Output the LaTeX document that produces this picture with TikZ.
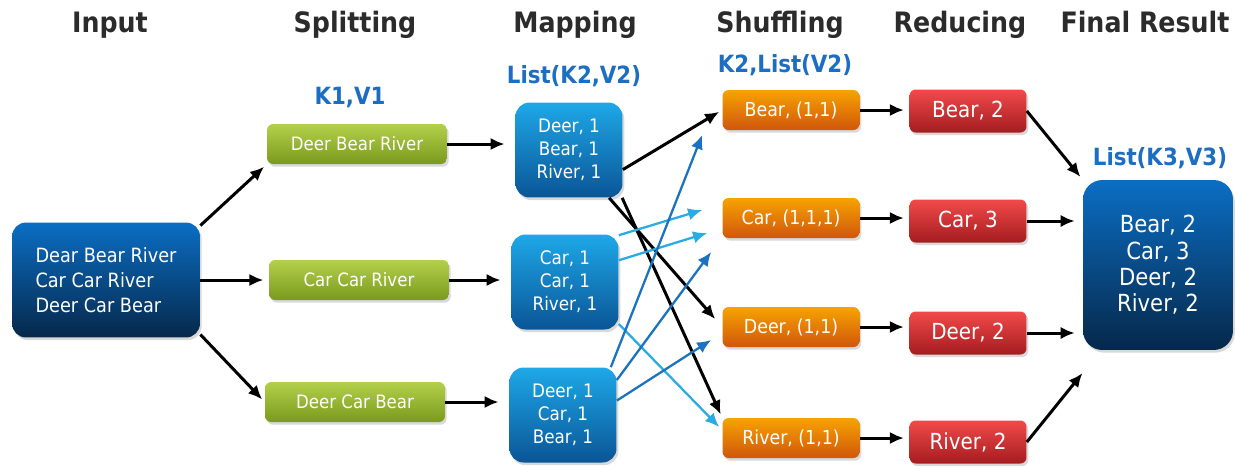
\documentclass[tikz,border=0pt]{standalone}
\usepackage{fontspec}
\setmainfont{DejaVu Sans Condensed}
\usetikzlibrary{arrows.meta,shadows}

\definecolor{headgray}{HTML}{2B2B2B}
\definecolor{keyblue}{HTML}{1B6EC2}
\definecolor{inblueA}{HTML}{0B6EC4}
\definecolor{inblueB}{HTML}{06284A}
\definecolor{greenA}{HTML}{B4D04A}
\definecolor{greenB}{HTML}{7A9A1E}
\definecolor{mapA}{HTML}{1EA8E8}
\definecolor{mapB}{HTML}{0A5596}
\definecolor{orangeA}{HTML}{F7A300}
\definecolor{orangeB}{HTML}{D0560C}
\definecolor{redA}{HTML}{F24A4A}
\definecolor{redB}{HTML}{A41C20}
\definecolor{arrlight}{HTML}{2AABE4}
\definecolor{arrdark}{HTML}{1B72BE}

\begin{document}
\begin{tikzpicture}[x=0.02cm,y=-0.02cm,
		stage/.style={font=\bfseries\fontsize{16}{19}\selectfont,text=headgray,anchor=base},
		keyval/.style={font=\bfseries\fontsize{13.5}{16}\selectfont,text=keyblue,anchor=base},
		box/.style={rounded corners=3.5pt,text=white,align=center,inner sep=2pt,
			drop shadow={opacity=.3,shadow xshift=1pt,shadow yshift=-1.5pt}},
		inbox/.style={box,rounded corners=8pt,top color=inblueA,bottom color=inblueB,
			minimum width=3.76cm,minimum height=2.3cm,font=\fontsize{11.2}{14.2}\selectfont,align=left},
		splitbox/.style={box,top color=greenA,bottom color=greenB,
			minimum width=3.6cm,minimum height=0.8cm,font=\fontsize{10.5}{12}\selectfont},
		mapbox/.style={box,rounded corners=8pt,top color=mapA,bottom color=mapB,
			minimum width=2.14cm,minimum height=1.9cm,font=\fontsize{10.6}{13}\selectfont},
		shufbox/.style={box,top color=orangeA,bottom color=orangeB,
			minimum width=2.74cm,minimum height=0.8cm,font=\fontsize{11}{13}\selectfont},
		redbox/.style={box,top color=redA,bottom color=redB,
			minimum width=2.34cm,minimum height=0.86cm,font=\fontsize{12.6}{15}\selectfont},
		outbox/.style={box,rounded corners=11pt,top color=inblueA,bottom color=inblueB,
			minimum width=3cm,minimum height=3.4cm,font=\fontsize{13.4}{15}\selectfont},
		link/.style={line width=1.7pt,-{Latex[length=8pt,width=7pt]},shorten >=2pt},
		lightlink/.style={link,color=arrlight,line width=1.3pt,shorten >=0pt},
		darklink/.style={link,color=arrdark,line width=1.3pt,shorten >=0pt}]
	\useasboundingbox (0,0) rectangle (1235,468);
	
	% stage titles
	\node[stage] (hin) at (110,32) {Input};
	\node[stage] (hsp) at (355,32) {Splitting};
	\node[stage] (hmp) at (575,32) {Mapping};
	\node[stage] (hsh) at (780,32) {Shuffling};
	\node[stage] (hrd) at (960,32) {Reducing};
	\node[stage] (hout) at (1145,32) {Final Result};
	
	\node[keyval] (kv1) at (350,104) {K1,V1};
	\node[keyval] (kv2) at (574,83) {List(K2,V2)};
	\node[keyval] (kv3) at (785,72) {K2,List(V2)};
	\node[keyval] (kv4) at (1160,165) {List(K3,V3)};
	
	\node[inbox] (in) at (106,280) {Dear Bear River\\Car Car River\\Deer Car Bear};
	
	\node[splitbox] (sp1) at (357,144) {Deer Bear River};
	\node[splitbox] (sp2) at (359,280) {Car Car River};
	\node[splitbox] (sp3) at (355,402) {Deer Car Bear};
	
	\node[mapbox] (mp1) at (569,150) {Deer, 1\\Bear, 1\\River, 1};
	\node[mapbox] (mp2) at (565,282) {Car, 1\\Car, 1\\River, 1};
	\node[mapbox] (mp3) at (563,415) {Deer, 1\\Car, 1\\Bear, 1};
	
	\node[shufbox] (sh1) at (791,110) {Bear, (1,1)};
	\node[shufbox] (sh2) at (791,218) {Car, (1,1,1)};
	\node[shufbox] (sh3) at (791,327) {Deer, (1,1)};
	\node[shufbox] (sh4) at (791,438) {River, (1,1)};
	
	\node[redbox] (rd1) at (968,111) {Bear, 2};
	\node[redbox] (rd2) at (968,221) {Car, 3};
	\node[redbox] (rd3) at (968,333) {Deer, 2};
	\node[redbox] (rd4) at (968,442) {River, 2};
	
	\node[outbox] (out) at (1158,265) {Bear, 2\\Car, 3\\Deer, 2\\River, 2};
	
	% input -> splitting -> mapping
	\draw[link] (in.30) -- (sp1.south west);
	\draw[link,shorten >=3pt] (in.east) -- (sp2.west);
	\draw[link] (in.-30) -- (sp3.west);
	\draw[link,shorten >=6pt] (sp1.east) -- (mp1.west |- sp1.east);
	\draw[link,shorten >=6pt] (sp2.east) -- (mp2.west |- sp2.east);
	\draw[link,shorten >=6pt] (sp3.east) -- (mp3.west |- sp3.east);
	
	% mapping -> shuffling
	\draw[link] (mp1.-20) -- (sh1.west);
	\draw[link,shorten >=6pt] (mp1.-50) -- (sh3.west);
	\draw[link] (mp1.-42) -- (sh4.north west);
	\draw[lightlink] (mp2.41) -- ([shift={(-20,-8)}]sh2.west);
	\draw[lightlink] (mp2.22) -- ([shift={(-15,15)}]sh2.west);
	\draw[lightlink] (mp2.-38) -- ([shift={(-3,-11)}]sh4.west);
	\draw[darklink] (mp3.45) -- ([shift={(-20,25)}]sh1.west);
	\draw[darklink] (mp3.33) -- ([shift={(-11,34)}]sh2.west);
	\draw[darklink] (mp3.15) -- ([shift={(-11,13)}]sh3.west);
	
	% shuffling -> reducing -> result
	\draw[link,shorten >=3pt] (sh1.east) -- (rd1.west |- sh1.east);
	\draw[link,shorten >=3pt] (sh2.east) -- (rd2.west |- sh2.east);
	\draw[link,shorten >=3pt] (sh3.east) -- (rd3.west |- sh3.east);
	\draw[link,shorten >=3pt] (sh4.east) -- (rd4.west |- sh4.east);
	\draw[link] (rd1.east) -- (out.north west);
	\draw[link,shorten >=4.5pt] (rd2.east) -- (rd2.east -| out.west);
	\draw[link,shorten >=4.5pt] (rd3.east) -- (rd3.east -| out.west);
	\draw[link] (rd4.east) -- ([shift={(2,20)}]out.south west);
\end{tikzpicture}
\end{document}
